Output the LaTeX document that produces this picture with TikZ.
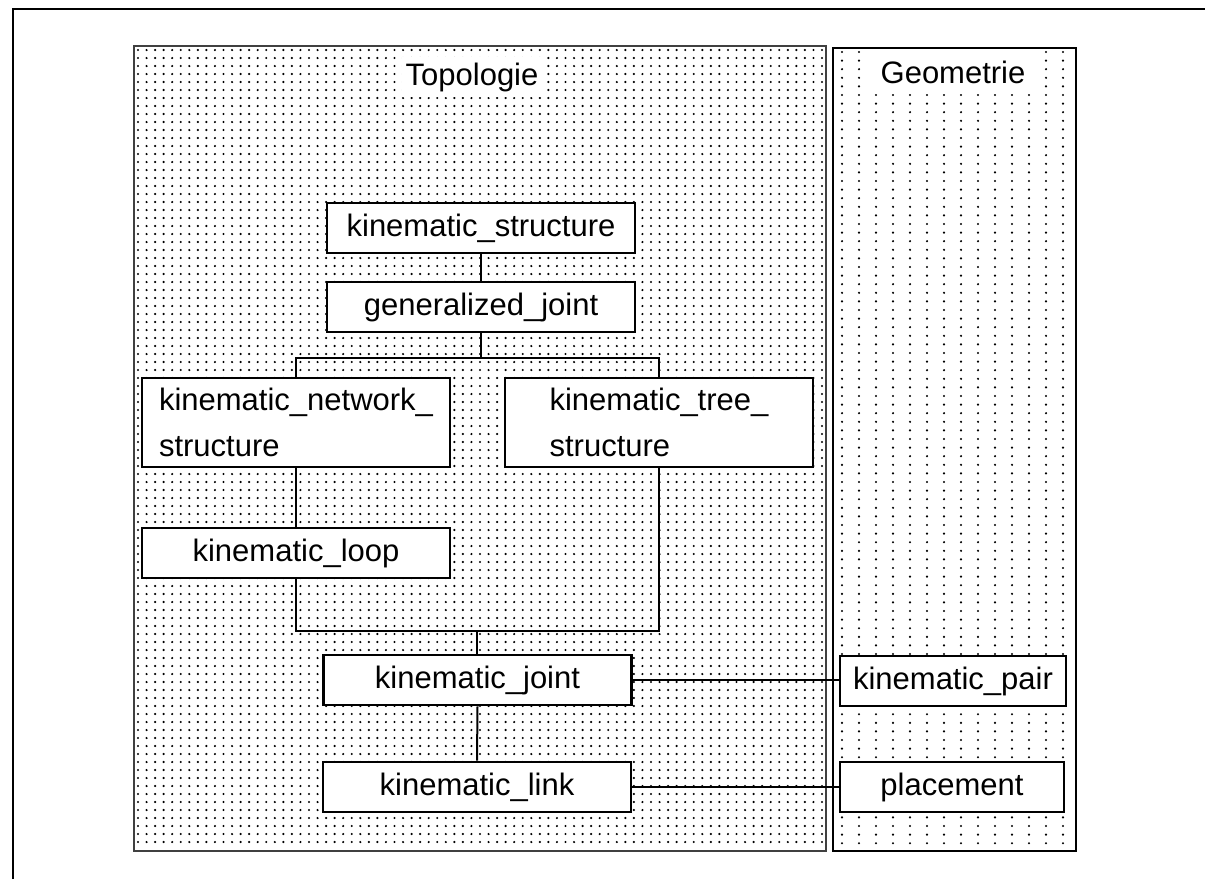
\documentclass[tikz,border=0pt]{standalone}
\usepackage{fontspec}
\setmainfont{Liberation Sans}
\begin{document}
\begin{tikzpicture}[x=0.5pt,y=-0.5pt,
  box/.style={draw=black, line width=1.4pt, fill=white, minimum width=154pt, minimum height=25pt, inner sep=0pt, font=\fontsize{15.5}{23}\selectfont},
  conn/.style={line width=1pt},
  dotrow/.style={line width=1.2pt, line cap=round, dash pattern=on 0pt off #1},
  lbl/.style={fill=white, inner sep=0pt, font=\fontsize{15.5}{18}\selectfont}]
\useasboundingbox (0,0) rectangle (1205,879);
\fill[white] (0,0) rectangle (1205,879);
% outer frame
\draw[line width=1.2pt] (13,879) -- (13,9) -- (1205,9);
% Topologie dots
\foreach \i in {0,...,99} \draw[dotrow=4.275pt] (138,50+8*\i) -- (826,50+8*\i);
% Geometrie dots
\foreach \i in {0,...,92} \draw[dotrow=8.5pt] (842,52+8.6*\i) -- (1070,52+8.6*\i);
% region borders
\draw[line width=0.6pt, black!75] (134,46) rectangle (826,851);
\draw[line width=0.9pt] (833,48) rectangle (1076,851);
% labels
\node[lbl, minimum width=70pt, minimum height=20pt] (topo) at (472,77) {Topologie};
\node[lbl, minimum width=86pt, minimum height=22pt] (geo) at (953,72) {Geometrie};
% nodes
\node[box] (ks) at (481,228) {kinematic\_structure};
\node[box] (gj) at (481,307) {generalized\_joint};
\node[box, minimum height=44.5pt, align=left] (kns) at (296,422.5) {kinematic\_network\_\\structure};
\node[box, minimum height=44.5pt, align=left] (kts) at (659,422.5) {kinematic\_tree\_\\structure};
\node[box] (kl) at (296,553) {kinematic\_loop};
\node[box] (kj) at (477.5,680) {kinematic\_joint};
\node[box] (klink) at (477,787) {kinematic\_link};
\node[box, minimum width=113pt] (kp) at (953,681) {kinematic\_pair};
\node[box, minimum width=112pt] (pl) at (952,787) {placement};
% connectors
\coordinate (s1) at (480,358);
\coordinate (m1) at (477,631);
\draw[conn] (ks.south) -- (gj.south |- ks.south) (gj.north) -- (ks.south);
\draw[conn] (gj.south) -- (gj.south |- s1);
\draw[conn] (kns.north) |- (s1) -| (kts.north);
\draw[conn] (kns.south) -- (kl.north);
\draw[conn] (kl.south) |- (m1) -| (kts.south);
\draw[conn] (m1) -- (m1 |- kj.north);
\draw[conn] (kj.south) -- (klink.north);
\draw[conn] (kj.east) -- (kj.east -| kp.west);
\draw[conn] (klink.east) -- (klink.east -| pl.west);
\end{tikzpicture}
\end{document}
